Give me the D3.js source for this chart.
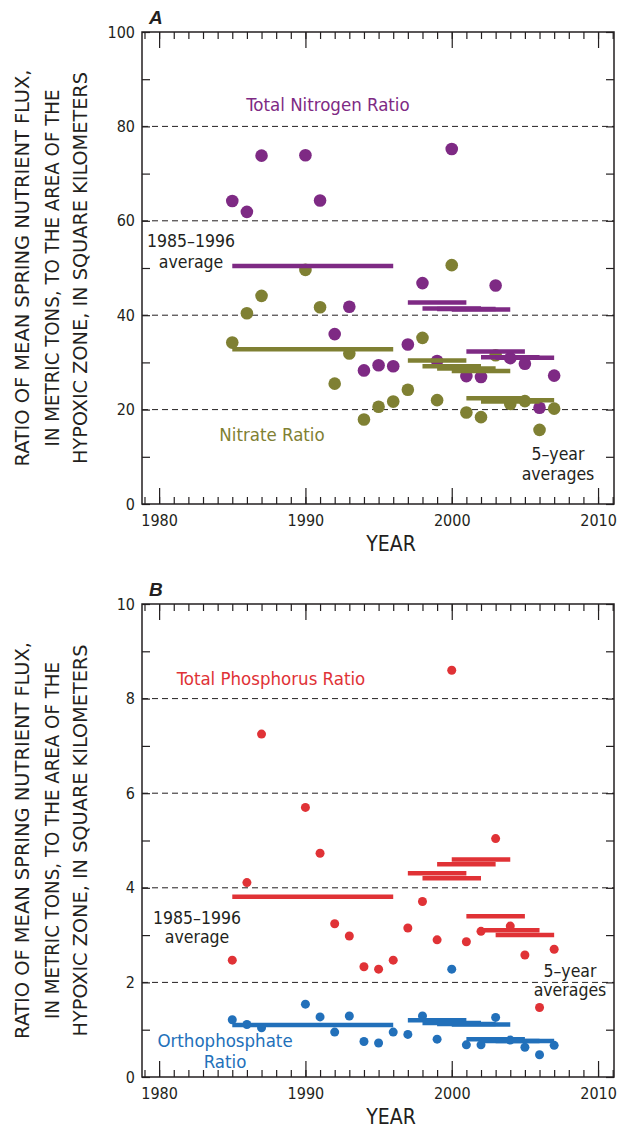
<!DOCTYPE html>
<html>
<head>
<meta charset="utf-8">
<script src="https://cdn.jsdelivr.net/npm/d3@7"></script>
<style>
	body { margin: 0; background: #fff; }
	svg text { font-family: "Liberation Sans Narrow", "DejaVu Sans Condensed", "Roboto", sans-serif; fill: #231f20; }
	.tick text { font-size: 16px; }
	.domain { display: none; }
	.tick line { stroke: #231f20; stroke-width: 1.2; }
</style>
</head>
<body>
<svg id="chart"></svg>
<script>
// years with observations (1988, 1989 missing)
const years = [1985,1986,1987,1990,1991,1992,1993,1994,1995,1996,1997,1998,1999,2000,2001,2002,2003,2004,2005,2006,2007];

const totalNitrogen = [64.2,61.9,73.8,73.9,64.3,36.0,41.8,28.3,29.4,29.2,33.8,46.8,30.3,75.2,27.1,26.9,46.3,30.9,29.7,20.4,27.2];
const nitrate = [34.2,40.4,44.1,49.6,41.7,25.5,31.9,17.9,20.6,21.7,24.2,35.2,22.0,50.6,19.4,18.4,31.5,21.2,21.8,15.7,20.2];
const totalPhosphorus = [2.47,4.11,7.25,5.70,4.73,3.24,2.98,2.33,2.28,2.47,3.15,3.71,2.90,8.60,2.86,3.08,5.04,3.19,2.58,1.47,2.70];
const orthophosphate = [1.21,1.11,1.04,1.54,1.27,0.95,1.29,0.75,0.72,0.95,0.90,1.29,0.80,2.28,0.68,0.68,1.26,0.78,0.63,0.47,0.67];

// averaging periods: 1985-1996 then 5-year running windows
const avgStart = [1985,1997,1998,1999,2000,2001,2002,2003];
const avgEnd   = [1996,2001,2002,2003,2004,2005,2006,2007];
const nitrogenAvg   = [50.4,42.7,41.4,41.3,41.2,32.3,31.1,31.0];
const nitrateAvg    = [32.8,30.4,29.2,28.7,28.2,22.4,21.7,22.0];
const phosphorusAvg = [3.81,4.31,4.20,4.50,4.60,3.40,3.10,3.00];
const orthoAvg      = [1.10,1.20,1.14,1.12,1.11,0.80,0.76,0.76];

const yTicksA = [0,20,40,60,80,100];
const yTicksB = [0,2,4,6,8,10];
const titleLines = ["RATIO OF MEAN SPRING NUTRIENT FLUX,", "IN METRIC TONS, TO THE AREA OF THE", "HYPOXIC ZONE, IN SQUARE KILOMETERS"];

const purple = "#7e2a84", olive = "#7f8033", red = "#e03236", blue = "#2270ba";

let width = 620, height = 1130;
let left = 142, right = 614;

let svg = d3.select("#chart").attr("width", width).attr("height", height);

let xScale = d3.scaleLinear().domain([1978.83, 2011.09]).range([left, right]);

function drawPanel(p) {
	let g = svg.append("g");
	let yScale = d3.scaleLinear().domain([0, p.ymax]).range([p.bottom, p.top]);
	let allYears = d3.range(1979, 2012);
	let decades = [1980,1990,2000,2010];

	// dashed grid lines
	g.selectAll("line.grid").data(p.grid).enter().append("line")
		.attr("class", "grid")
		.attr("x1", left).attr("x2", right)
		.attr("y1", d => yScale(d)).attr("y2", d => yScale(d))
		.style("stroke", "#231f20").style("stroke-width", 1)
		.style("stroke-dasharray", "6,4");

	// bottom axis: minor year ticks + labelled decade ticks
	g.append("g").attr("transform", "translate(0," + p.bottom + ")")
		.call(d3.axisBottom(xScale).tickValues(allYears).tickSize(-7).tickFormat(""));
	g.append("g").attr("transform", "translate(0," + p.bottom + ")")
		.call(d3.axisBottom(xScale).tickValues(decades).tickSize(-16).tickPadding(11).tickFormat(d3.format("d")));
	// top axis
	g.append("g").attr("transform", "translate(0," + p.top + ")")
		.call(d3.axisTop(xScale).tickValues(allYears).tickSize(-7).tickFormat(""));
	g.append("g").attr("transform", "translate(0," + p.top + ")")
		.call(d3.axisTop(xScale).tickValues(decades).tickSize(-16).tickFormat(""));

	// left / right axes
	g.append("g").attr("transform", "translate(" + left + ",0)")
		.call(d3.axisLeft(yScale).tickValues(d3.range(0, p.ymax + 0.001, p.minor)).tickSize(-8).tickFormat(""));
	g.append("g").attr("transform", "translate(" + left + ",0)")
		.call(d3.axisLeft(yScale).tickValues(p.labels).tickSize(0).tickPadding(7));
	g.append("g").attr("transform", "translate(" + right + ",0)")
		.call(d3.axisRight(yScale).tickValues(d3.range(0, p.ymax + 0.001, p.minor)).tickSize(-8).tickFormat(""));

	// frame
	g.append("rect")
		.attr("x", left).attr("y", p.top)
		.attr("width", right - left).attr("height", p.bottom - p.top)
		.style("fill", "none").style("stroke", "#231f20").style("stroke-width", 1.5);

	// points
	p.series.forEach(function(s) {
		g.selectAll(null).data(years.map((yr, i) => ({year: yr, v: s.values[i]}))).enter()
			.append("circle")
			.attr("cx", d => xScale(d.year))
			.attr("cy", d => yScale(d.v))
			.attr("r", p.r)
			.style("fill", s.color);
	});
	// average lines on top
	p.series.forEach(function(s) {
		g.selectAll(null).data(avgStart.map((st, i) => ({a: st, b: avgEnd[i], v: s.avg[i]}))).enter()
			.append("line")
			.attr("x1", d => xScale(d.a)).attr("x2", d => xScale(d.b))
			.attr("y1", d => yScale(d.v)).attr("y2", d => yScale(d.v))
			.style("stroke", s.color).style("stroke-width", 4.5);
	});

	// labels
	p.notes.forEach(function(n) {
		g.append("text")
			.attr("x", n.x).attr("y", n.y)
			.attr("text-anchor", "middle")
			.style("font-size", n.size + "px")
			.style("fill", n.color || "#231f20")
			.text(n.text);
	});

	// panel letter
	g.append("text").attr("x", left + 7).attr("y", p.top - 8)
		.style("font-family", "Liberation Sans, Arial, sans-serif")
		.style("font-weight", "bold").style("font-style", "italic")
		.style("font-size", "19px").text(p.letter);

	// x title
	g.append("text").attr("x", 391).attr("y", p.bottom + 47)
		.attr("text-anchor", "middle").style("font-size", "21px").text("YEAR");

	// y title, three rotated lines
	let cy = (p.top + p.bottom) / 2;
	let lens = [397, 357, 392];
	let xs = [29, 59, 87];
	titleLines.forEach(function(line, i) {
		g.append("text")
			.attr("transform", "translate(" + xs[i] + "," + cy + ") rotate(-90)")
			.attr("text-anchor", "middle")
			.attr("textLength", lens[i]).attr("lengthAdjust", "spacingAndGlyphs")
			.style("font-size", "20px")
			.text(line);
	});
}

drawPanel({
	letter: "A", top: 32, bottom: 504, ymax: 100, minor: 10, labels: yTicksA, grid: [20,40,60,80], r: 6.3,
	series: [
		{values: nitrate, avg: nitrateAvg, color: olive},
		{values: totalNitrogen, avg: nitrogenAvg, color: purple}
	],
	notes: [
		{text: "Total Nitrogen Ratio", x: 328, y: 111, size: 18.5, color: purple},
		{text: "1985\u20131996", x: 191, y: 247, size: 17.5},
		{text: "average", x: 191, y: 268, size: 17.5},
		{text: "Nitrate Ratio", x: 272, y: 441, size: 18.5, color: olive},
		{text: "5\u2013year", x: 558, y: 460, size: 17.5},
		{text: "averages", x: 558, y: 480, size: 17.5}
	]
});

drawPanel({
	letter: "B", top: 604, bottom: 1077, ymax: 10, minor: 1, labels: yTicksB, grid: [2,4,6,8], r: 4.5,
	series: [
		{values: totalPhosphorus, avg: phosphorusAvg, color: red},
		{values: orthophosphate, avg: orthoAvg, color: blue}
	],
	notes: [
		{text: "Total Phosphorus Ratio", x: 271, y: 685, size: 18.5, color: red},
		{text: "1985\u20131996", x: 197, y: 924, size: 17.5},
		{text: "average", x: 197, y: 943, size: 17.5},
		{text: "5\u2013year", x: 570, y: 977, size: 17.5},
		{text: "averages", x: 570, y: 996, size: 17.5},
		{text: "Orthophosphate", x: 225, y: 1047, size: 18.5, color: blue},
		{text: "Ratio", x: 225, y: 1068, size: 18.5, color: blue}
	]
});
</script>
</body>
</html>
